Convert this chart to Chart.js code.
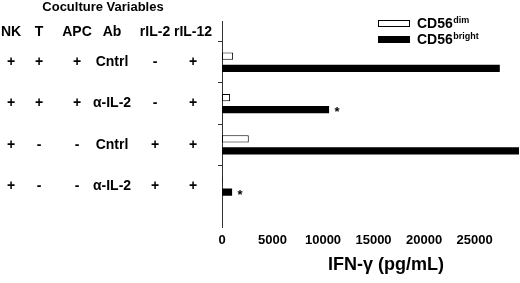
<!DOCTYPE html>
<html>
<head>
<meta charset="utf-8">
<script src="https://cdn.jsdelivr.net/npm/chart.js@4"></script>
<style>
  html, body { margin: 0; padding: 0; background: #fff; }
  #wrap { width: 520px; height: 283px; }
</style>
</head>
<body>
<div id="wrap"><canvas id="graphCanvas"></canvas></div>
<script>
// 表の列
const headers = ["NK", "T", "APC", "Ab", "rIL-2", "rIL-12"];
const colNK = ["+", "+", "+", "+"];
const colT = ["+", "+", "-", "-"];
const colAPC = ["+", "+", "-", "-"];
const colAb = ["Cntrl", "α-IL-2", "Cntrl", "α-IL-2"];
const colIL2 = ["-", "-", "+", "+"];
const colIL12 = ["+", "+", "+", "+"];

// IFN-γ (pg/mL)
const dimValues = [1100, 800, 2650, 60];
const brightValues = [27500, 10600, 29400, 1000];
const significant = [false, true, false, true];

const xTicks = [0, 5000, 10000, 15000, 20000, 25000];

const font = "'Liberation Sans', Arial, sans-serif";

// 上下に空の区画を足す
const rowLabels = ["", "1", "2", "3", "4", ""];
const dimData = [null, ...dimValues, null];
const brightData = [null, ...brightValues, null];

const tablePlugin = {
  id: "tablePlugin",
  afterDraw(chart) {
    const c = chart.ctx;
    const y = chart.scales.y;
    const colX = [11, 39, 77, 112, 155, 193];
    const cols = [colNK, colT, colAPC, colAb, colIL2, colIL12];
    c.save();
    c.fillStyle = "#000";
    c.textAlign = "center";
    c.textBaseline = "middle";
    c.font = "bold 13px " + font;
    c.fillText("Coculture Variables", 103, 7);
    c.font = "bold 14px " + font;
    headers.forEach((h, i) => c.fillText(h, colX[i], 32));
    for (let r = 0; r < colNK.length; r++) {
      const py = y.getPixelForValue(r + 1);
      cols.forEach((col, i) => c.fillText(col[r], colX[i], py));
    }
    // 有意差の印
    const meta = chart.getDatasetMeta(1);
    significant.forEach((s, r) => {
      if (!s) return;
      const bar = meta.data[r + 1];
      c.font = "bold 13px " + font;
      c.fillText("*", bar.x + 8, bar.y + 3);
    });
    // x軸タイトル
    c.font = "bold 18px " + font;
    c.fillText("IFN-γ (pg/mL)", 386, 265);
    // 凡例
    const names = [["CD56", "dim"], ["CD56", "bright"]];
    chart.data.datasets.forEach((ds, i) => {
      const ly = 23.5 + i * 16;
      c.fillStyle = ds.backgroundColor;
      c.fillRect(378.5, ly - 3, 31, 6);
      c.strokeStyle = "#000";
      c.lineWidth = 1;
      c.strokeRect(378.5, ly - 3, 31, 6);
      c.fillStyle = "#000";
      c.textAlign = "left";
      c.font = "bold 14px " + font;
      c.fillText(names[i][0], 417, ly + 1);
      const w = c.measureText(names[i][0]).width;
      c.font = "bold 9px " + font;
      c.fillText(names[i][1], 417 + w + 0.5, ly - 3);
    });
    c.restore();
  },
};

let ctx = document.getElementById("graphCanvas").getContext("2d");
let graphChart = new Chart(ctx, {
  type: "bar",
  data: {
    labels: rowLabels,
    datasets: [
      {
        label: "CD56dim",
        data: dimData,
        backgroundColor: "#ffffff",
        borderColor: "#000000",
        borderWidth: 1,
        borderSkipped: false,
        categoryPercentage: 0.585,
        barPercentage: 0.6,
      },
      {
        label: "CD56bright",
        data: brightData,
        backgroundColor: "#000000",
        borderColor: "#000000",
        borderWidth: 0,
        categoryPercentage: 0.585,
        barPercentage: 0.6,
      },
    ],
  },
  options: {
    indexAxis: "y",
    animation: false,
    responsive: true,
    maintainAspectRatio: false,
    layout: { padding: { left: 218, top: 21, right: 0, bottom: 30 } },
    scales: {
      x: {
        type: "linear",
        min: 0,
        max: 29500,
        grid: { display: false, drawTicks: false },
        border: { display: false },
        ticks: {
          padding: 5,
          color: "#000",
          font: { family: font, size: 13, weight: "bold" },
          callback: (v) => String(v),
        },
        afterBuildTicks(axis) {
          axis.ticks = xTicks.map((v) => ({ value: v }));
        },
      },
      y: {
        offset: false,
        grid: {
          drawOnChartArea: false,
          tickLength: 4,
          tickColor: (c) => (c.index === 0 || c.index === 5 ? "rgba(0,0,0,0)" : "#333"),
        },
        border: { display: true, color: "#333", width: 1 },
        ticks: { display: false },
      },
    },
    plugins: {
      legend: { display: false },
      tooltip: { enabled: false },
    },
  },
  plugins: [tablePlugin],
});
</script>
</body>
</html>
